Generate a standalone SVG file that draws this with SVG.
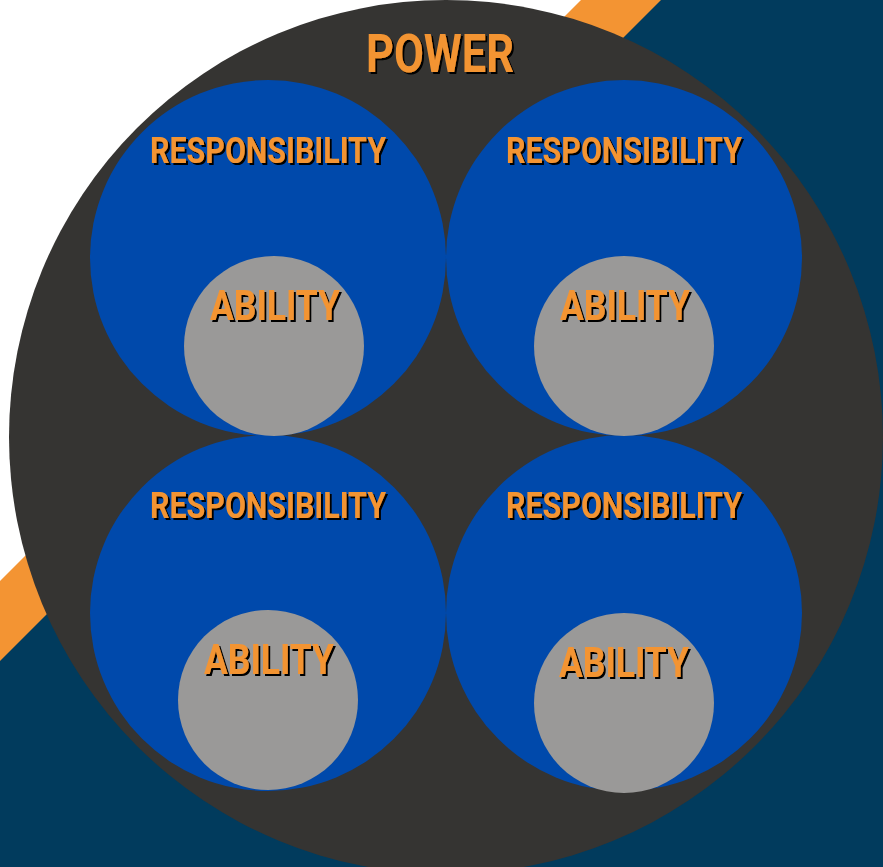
<svg xmlns="http://www.w3.org/2000/svg" width="883" height="867" viewBox="0 0 883 867">
<style>
.lbl{font-family:"Roboto","Liberation Sans",sans-serif;font-weight:700;fill:#f39433;text-anchor:middle;filter:url(#sh)}
.resp{font-size:36px}
.abil{font-size:43px}
.blue{fill:#0049ab}
.gray{fill:#9a9998}
</style>
<defs>
<filter id="sh" x="-10%" y="-20%" width="120%" height="150%">
<feDropShadow dx="2" dy="2" stdDeviation="0.3" flood-color="#000" flood-opacity="1"/>
</filter>
</defs>
<g id="background">
<rect width="883" height="867" fill="#ffffff"/>
<polygon points="581,0 883,0 883,867 0,867 0,581" fill="#f39433"/>
<polygon points="661,0 883,0 883,867 0,867 0,661" fill="#013b5d"/>
</g>
<g id="power">
<circle cx="446" cy="437" r="437" fill="#353432"/>
<text class="lbl" x="440" y="72" font-size="54" textLength="148" lengthAdjust="spacingAndGlyphs">POWER</text>
</g>
<g id="resp-tl">
<circle class="blue" cx="268" cy="258" r="178"/>
<text class="lbl resp" x="268" y="163" textLength="236" lengthAdjust="spacingAndGlyphs">RESPONSIBILITY</text>
</g>
<g id="resp-tr">
<circle class="blue" cx="624" cy="258" r="178"/>
<text class="lbl resp" x="624" y="163" textLength="236" lengthAdjust="spacingAndGlyphs">RESPONSIBILITY</text>
</g>
<g id="resp-bl">
<circle class="blue" cx="268" cy="613" r="178"/>
<text class="lbl resp" x="268" y="518" textLength="236" lengthAdjust="spacingAndGlyphs">RESPONSIBILITY</text>
</g>
<g id="resp-br">
<circle class="blue" cx="624" cy="613" r="178"/>
<text class="lbl resp" x="624" y="518" textLength="236" lengthAdjust="spacingAndGlyphs">RESPONSIBILITY</text>
</g>
<g id="ability-tl">
<circle class="gray" cx="274" cy="346" r="90"/>
<text class="lbl abil" x="275" y="320" textLength="130" lengthAdjust="spacingAndGlyphs">ABILITY</text>
</g>
<g id="ability-tr">
<circle class="gray" cx="624" cy="346" r="90"/>
<text class="lbl abil" x="625" y="320" textLength="130" lengthAdjust="spacingAndGlyphs">ABILITY</text>
</g>
<g id="ability-bl">
<circle class="gray" cx="268" cy="700" r="90"/>
<text class="lbl abil" x="269" y="674" textLength="130" lengthAdjust="spacingAndGlyphs">ABILITY</text>
</g>
<g id="ability-br">
<circle class="gray" cx="624" cy="703" r="90"/>
<text class="lbl abil" x="624" y="677" textLength="130" lengthAdjust="spacingAndGlyphs">ABILITY</text>
</g>
<g id="connectors"></g>
</svg>
